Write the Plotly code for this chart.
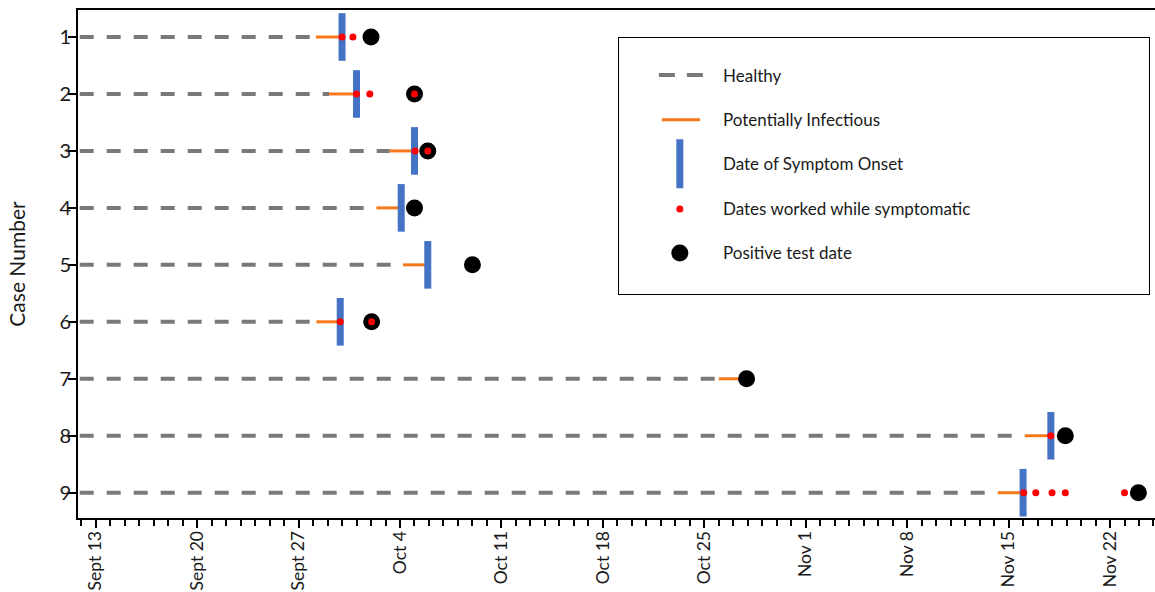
import plotly.graph_objects as go
import pandas as pd

# ---------------- data ----------------
cases = [1, 2, 3, 4, 5, 6, 7, 8, 9]
healthy_start = "2020-09-11 21:30"
infectious_start = ["2020-09-28 04:30", "2020-09-29 02:30", "2020-10-03 07:00",
                    "2020-10-02 09:00", "2020-10-04 05:00", "2020-09-28 05:30",
                    "2020-10-26 00:00", "2020-11-16 03:00", "2020-11-14 06:00"]
symptom_onset = ["2020-09-30 00:00", "2020-10-01 00:00", "2020-10-05 00:00",
                 "2020-10-04 02:00", "2020-10-05 22:00", "2020-09-29 21:00",
                 None, "2020-11-17 22:00", "2020-11-16 00:00"]
positive_test = ["2020-10-02 00:00", "2020-10-05 00:00", "2020-10-05 22:00",
                 "2020-10-05 00:00", "2020-10-09 00:00", "2020-10-02 01:00",
                 "2020-10-27 22:00", "2020-11-18 22:00", "2020-11-23 23:00"]
worked_symptomatic = [
    ["2020-09-30 00:00", "2020-09-30 18:00"],
    ["2020-10-01 00:00", "2020-10-01 22:00", "2020-10-05 00:00"],
    ["2020-10-05 01:00", "2020-10-05 22:00"],
    [],
    [],
    ["2020-09-29 21:00", "2020-10-02 01:00"],
    [],
    ["2020-11-17 22:00"],
    ["2020-11-16 01:00", "2020-11-16 21:00", "2020-11-18 00:00",
     "2020-11-18 22:00", "2020-11-23 00:00"],
]
tick_dates = [d.strftime("%Y-%m-%d") for d in pd.date_range("2020-09-13", periods=11, freq="7D")]
tick_labels = ["Sept 13", "Sept 20", "Sept 27", "Oct 4", "Oct 11", "Oct 18",
               "Oct 25", "Nov 1", "Nov 8", "Nov 15", "Nov 22"]
legend_labels = ["Healthy", "Potentially Infectious", "Date of Symptom Onset",
                 "Dates worked while symptomatic", "Positive test date"]

# ---------------- styles ----------------
GRAY = "#7b7878"
ORANGE = "#f7781a"
BLUE = "#4472C4"
RED = "#ff0000"
BLACK = "#000000"
FONT = "Lato"
TXT = "#1a1a1a"

fig = go.Figure()

# healthy segments
hx, hy = [], []
for c, s in zip(cases, infectious_start):
    hx += [healthy_start, s, None]
    hy += [c, c, None]
fig.add_trace(go.Scatter(x=hx, y=hy, mode="lines",
                         line=dict(color=GRAY, width=4, dash="14px,13px"),
                         hoverinfo="skip", showlegend=False))

# potentially infectious segments
ox, oy = [], []
for c, s, on, t in zip(cases, infectious_start, symptom_onset, positive_test):
    ox += [s, on if on is not None else t, None]
    oy += [c, c, None]
fig.add_trace(go.Scatter(x=ox, y=oy, mode="lines",
                         line=dict(color=ORANGE, width=3),
                         showlegend=False))

# symptom onset bars
bx = [on for on in symptom_onset if on is not None]
by = [c for c, on in zip(cases, symptom_onset) if on is not None]
fig.add_trace(go.Scatter(x=bx, y=by, mode="markers",
                         marker=dict(symbol="line-ns", size=34,
                                     line=dict(color=BLUE, width=7)),
                         showlegend=False))

# positive test
fig.add_trace(go.Scatter(x=positive_test, y=cases, mode="markers",
                         marker=dict(symbol="circle", size=17, color=BLACK),
                         showlegend=False))

# worked while symptomatic
rx, ry = [], []
for c, ws in zip(cases, worked_symptomatic):
    rx += ws
    ry += [c] * len(ws)
fig.add_trace(go.Scatter(x=rx, y=ry, mode="markers",
                         marker=dict(symbol="circle", size=7, color=RED),
                         showlegend=False))

# ---------------- manual legend (second axes) ----------------
row_y = [0.855, 0.680, 0.508, 0.332, 0.160]
fig.add_trace(go.Scatter(x=[0.0755, 0.1585], y=[row_y[0]] * 2, mode="lines",
                         line=dict(color=GRAY, width=4, dash="16px,12px"),
                         xaxis="x2", yaxis="y2", showlegend=False, hoverinfo="skip"))
fig.add_trace(go.Scatter(x=[0.081, 0.153], y=[row_y[1]] * 2, mode="lines",
                         line=dict(color=ORANGE, width=3),
                         xaxis="x2", yaxis="y2", showlegend=False, hoverinfo="skip"))
fig.add_trace(go.Scatter(x=[0.115], y=[row_y[2]], mode="markers",
                         marker=dict(symbol="line-ns", size=35, line=dict(color=BLUE, width=7)),
                         xaxis="x2", yaxis="y2", showlegend=False, hoverinfo="skip"))
fig.add_trace(go.Scatter(x=[0.115], y=[row_y[3]], mode="markers",
                         marker=dict(symbol="circle", size=7, color=RED),
                         xaxis="x2", yaxis="y2", showlegend=False, hoverinfo="skip"))
fig.add_trace(go.Scatter(x=[0.115], y=[row_y[4]], mode="markers",
                         marker=dict(symbol="circle", size=17, color=BLACK),
                         xaxis="x2", yaxis="y2", showlegend=False, hoverinfo="skip"))
for lab, yy in zip(legend_labels, row_y):
    fig.add_annotation(x=0.193, y=yy, xref="x2", yref="y2", text=lab,
                       showarrow=False, xanchor="left", yanchor="middle",
                       font=dict(family=FONT, size=17, color=TXT))

fig.update_layout(
    width=1155, height=592,
    margin=dict(l=78, r=0, t=10, b=74),
    paper_bgcolor="white", plot_bgcolor="white",
    showlegend=False,
    xaxis=dict(
        type="date", automargin=False,
        range=["2020-09-11 18:40", "2020-11-25 02:30"],
        tickmode="array", tickvals=tick_dates, ticktext=tick_labels,
        tickangle=-90, ticklabelstandoff=-4,
        ticks="outside", ticklen=8, tickwidth=1.5, tickcolor="black",
        minor=dict(dtick=86400000, tick0="2020-09-13", ticks="outside",
                   ticklen=6, tickwidth=1.5, tickcolor="black", showgrid=False),
        showline=True, linecolor="black", linewidth=2, mirror=True,
        showgrid=False, zeroline=False,
        tickfont=dict(family=FONT, size=17.5, color=TXT),
    ),
    yaxis=dict(
        automargin=False,
        range=[9.444, 0.526],
        tickmode="array", tickvals=cases, ticktext=[str(c) for c in cases],
        ticks="outside", ticklen=8, tickwidth=1.5, tickcolor="black",
        ticklabelstandoff=-7,
        showline=True, linecolor="black", linewidth=2,
        showgrid=False, zeroline=False,
        tickfont=dict(family=FONT, size=20, color=TXT),
        title=dict(text="Case Number", font=dict(family=FONT, size=21, color=TXT), standoff=28),
    ),
    xaxis2=dict(domain=[0.5022, 0.9944], range=[0, 1], anchor="y2",
                showline=True, mirror=True, linecolor="black", linewidth=1.2,
                showticklabels=False, ticks="", showgrid=False, zeroline=False, fixedrange=True),
    yaxis2=dict(domain=[0.4413, 0.9449], range=[0, 1], anchor="x2",
                showline=True, mirror=True, linecolor="black", linewidth=1.2,
                showticklabels=False, ticks="", showgrid=False, zeroline=False, fixedrange=True),
)

fig.write_html("out.html", config={"displayModeBar": False},
               post_script="document.body.style.margin='0';document.body.style.overflow='hidden';")
